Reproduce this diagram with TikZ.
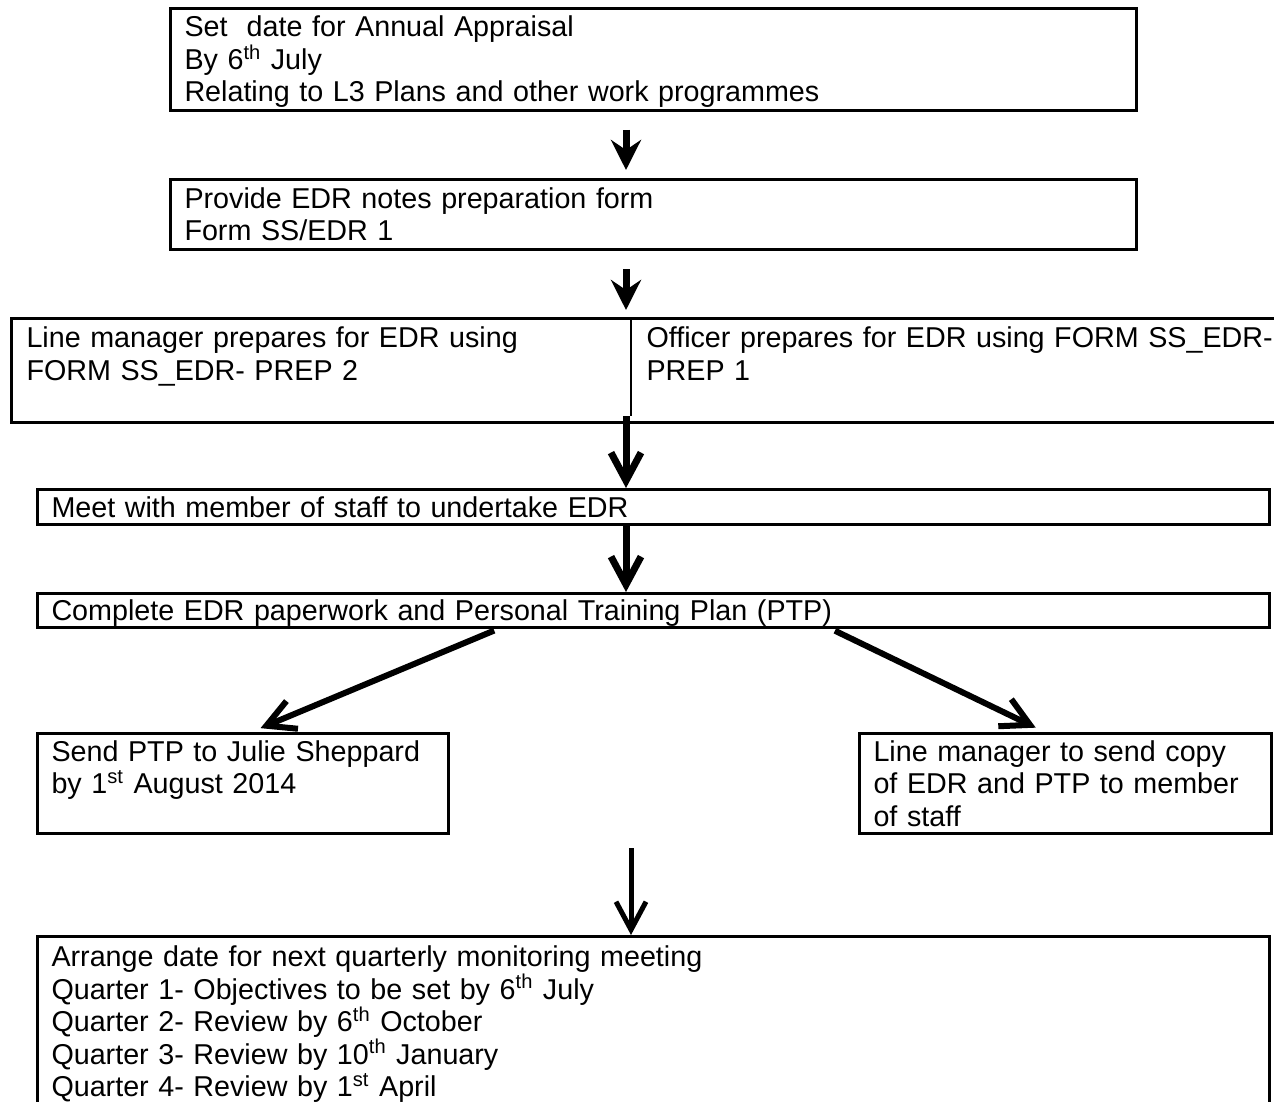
\documentclass[tikz,border=0pt]{standalone}
\usepackage{fontspec}
\setmainfont{Liberation Sans}
\usetikzlibrary{arrows.meta, calc}
\newcommand{\boxfont}{\fontsize{14.35pt}{16.25pt}\selectfont}
\newcommand{\wordstrut}{\rule[-3.1pt]{0pt}{16.2pt}}

\begin{document}
\begin{tikzpicture}[
  x=0.5pt, y=-0.5pt,
  stage/.style={rectangle, draw=black, line width=1.5pt, anchor=north west,
                align=left, inner xsep=7pt, inner ysep=0pt, font=\boxfont,
                execute at begin node=\wordstrut, execute at end node=\wordstrut},
  solidarrow/.style={line width=3.5pt, -{Stealth[length=15pt, width=15pt, inset=5pt]}},
  barbarrow/.style={line width=3.5pt, -{Straight Barb[length=14pt, width=15pt]}}
]
  \useasboundingbox (0,0) rectangle (1274,1102);

  \node[stage, text width=469pt, minimum height=51pt] (setdate) at (169,7)
    {Set\ \ date for Annual Appraisal\\ By 6\textsuperscript{th} July\\ Relating to L3 Plans and other work programmes};
  \node[stage, text width=469pt, minimum height=35pt] (provide) at (169,178)
    {Provide EDR notes preparation form\\ Form SS/EDR 1};
  \node[stage, draw=none, text width=294.5pt, minimum height=50.5pt] (prepline) at (11,318)
    {Line manager prepares for EDR using\\ FORM SS\_EDR- PREP 2\\ \mbox{}};
  \node[stage, draw=none, text width=332pt, minimum height=50.5pt] (prepofficer) at (prepline.north east)
    {Officer prepares for EDR using FORM SS\_EDR-\\ PREP 1\\ \mbox{}};
  \draw[line width=1.5pt] (prepline.north west) rectangle (prepofficer.south east);
  \draw[line width=0.8pt] (prepline.north east) -- ($(prepline.south east)+(0,-6)$);

  \node[stage, text width=602pt, minimum height=17.5pt] (meet) at (36,488)
    {Meet with member of staff to undertake EDR};
  \node[stage, text width=602pt, minimum height=17pt] (complete) at (36,592)
    {Complete EDR paperwork and Personal Training Plan (PTP)};
  \node[stage, text width=191.5pt, minimum height=50pt] (sendptp) at (36,732)
    {Send PTP to Julie Sheppard\\ by 1\textsuperscript{st} August 2014\\ \mbox{}};
  \node[stage, text width=192pt, minimum height=50pt] (sendcopy) at (858,732)
    {Line manager to send copy\\ of EDR and PTP to member\\ of staff};
  \node[stage, text width=602pt, minimum height=85pt] (review) at (36,935)
    {Arrange date for next quarterly monitoring meeting\\
     Quarter 1- Objectives to be set by 6\textsuperscript{th} July\\
     Quarter 2- Review by 6\textsuperscript{th} October\\
     Quarter 3- Review by 10\textsuperscript{th} January\\
     Quarter 4- Review by 1\textsuperscript{st} April};

  \coordinate (spine) at (626,0);
  \coordinate (joinpt) at (631,848);

  \foreach \a/\b in {setdate/provide, provide/prepline}{
    \draw[solidarrow, shorten <=9pt, shorten >=4pt] (\a.south -| spine) -- (\b.north -| spine);
  }
  \draw[barbarrow, shorten <=-3pt] (prepline.south -| spine) -- (meet.north -| spine);
  \draw[barbarrow] (meet.south -| spine) -- (complete.north -| spine);

  \draw[barbarrow, line width=3pt, shorten <=2pt, shorten >=5pt]
    ($(complete.south west)!0.374!(complete.south east)$) -- ($(sendptp.north west)!0.52!(sendptp.north east)$);
  \draw[barbarrow, line width=3pt, shorten <=2pt, shorten >=5pt]
    ($(complete.south west)!0.644!(complete.south east)$) -- ($(sendcopy.north west)!0.45!(sendcopy.north east)$);

  \draw[barbarrow, line width=2.5pt] (joinpt) -- (review.north -| joinpt);
\end{tikzpicture}
\end{document}
